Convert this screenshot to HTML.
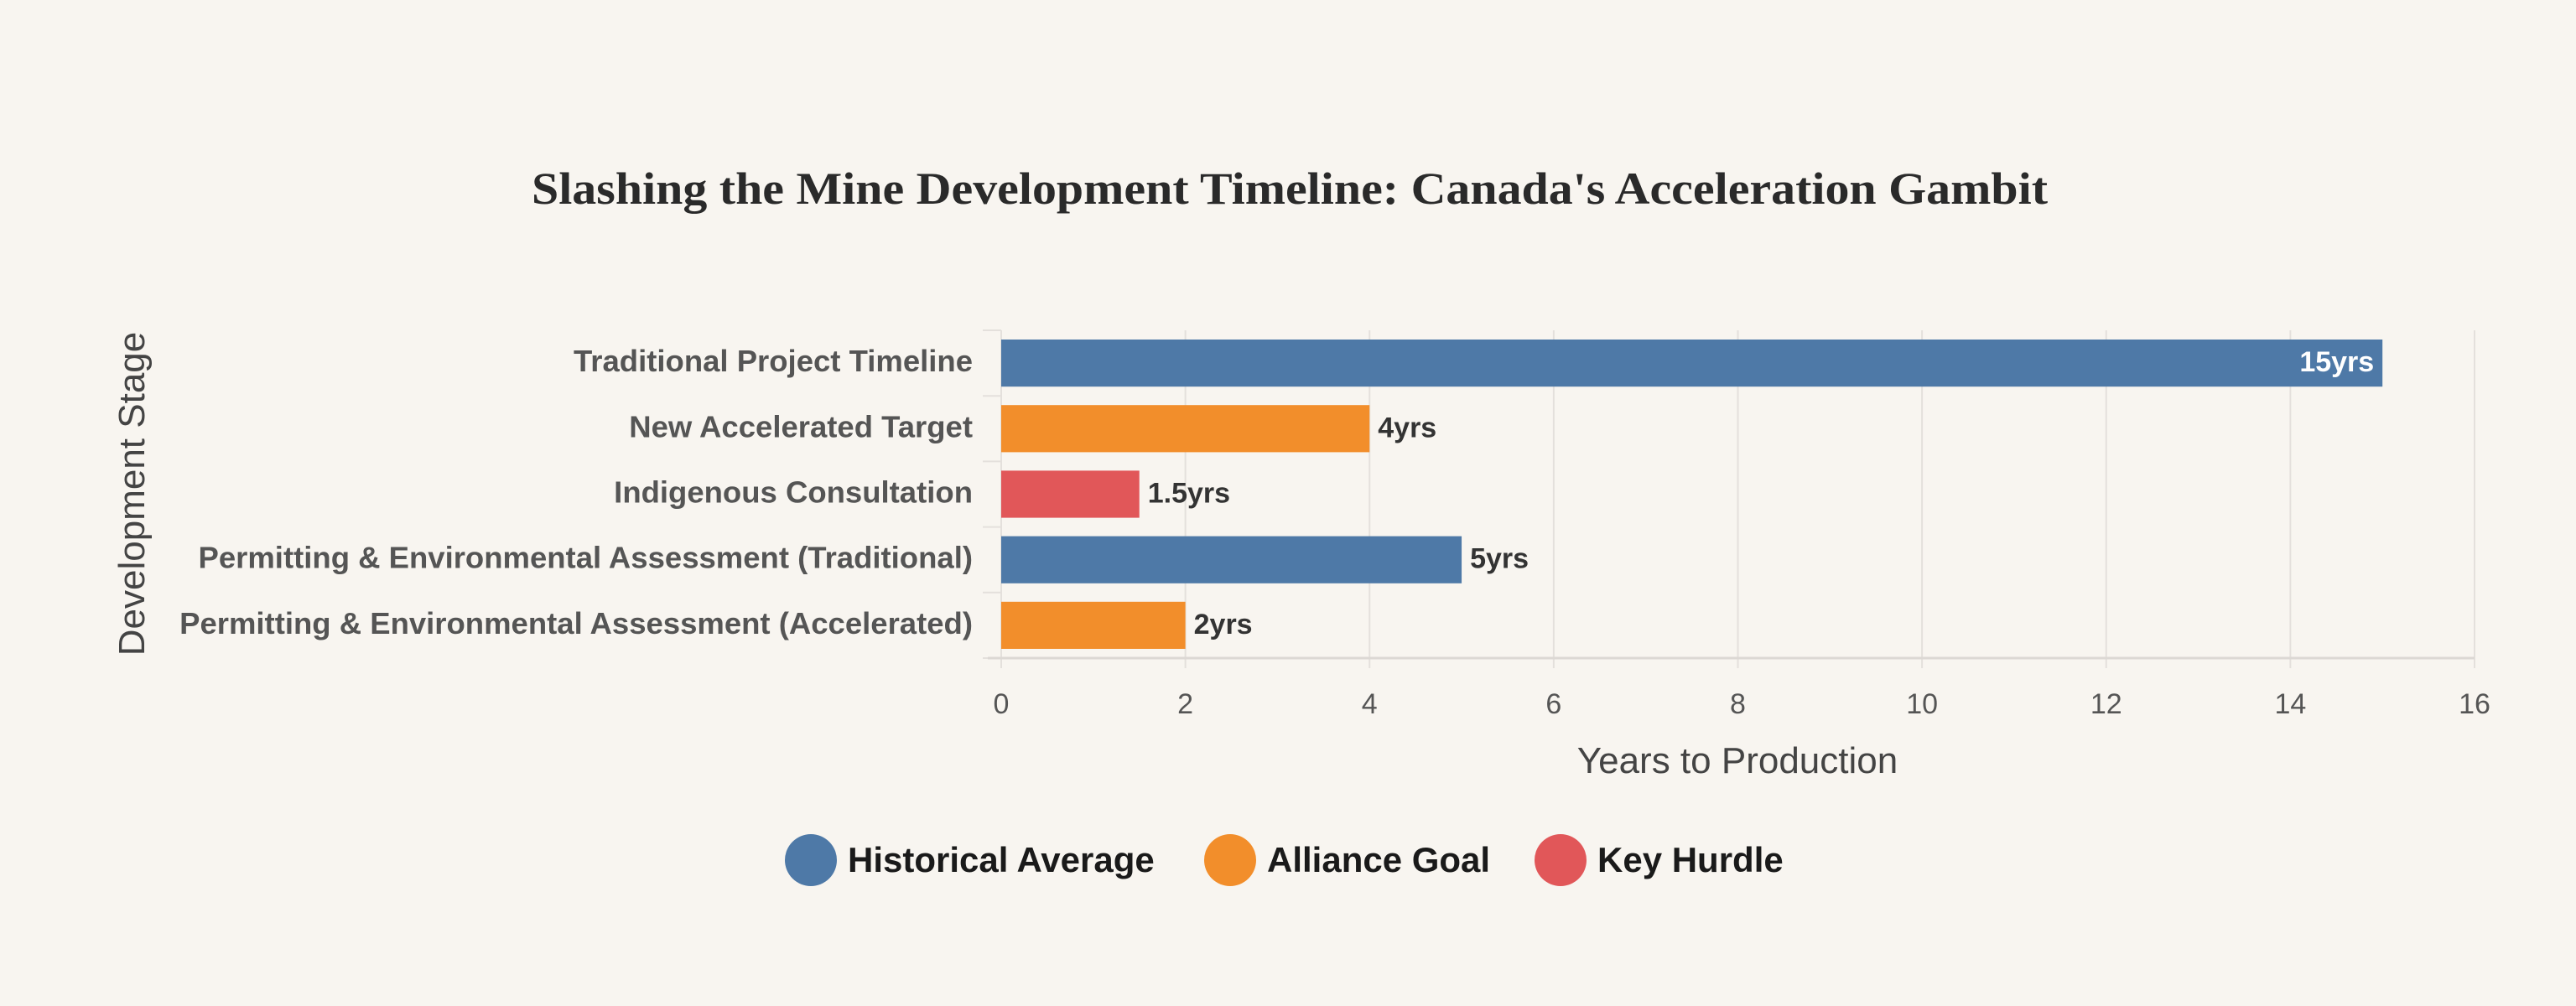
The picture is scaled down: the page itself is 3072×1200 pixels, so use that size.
<!DOCTYPE html>
<html><head><meta charset="utf-8">
<style>
html,body{margin:0;padding:0;background:#f8f5f0;}
svg{display:block;}
</style></head>
<body>
<svg id="chart" width="3072" height="1200" viewBox="0 0 3072 1200" xmlns="http://www.w3.org/2000/svg">
<rect x="0" y="0" width="3072" height="1200" fill="#f8f5f0"/>
<text x="1538" y="243" text-anchor="middle" font-family="'Liberation Serif',serif" font-weight="bold" font-size="54" fill="#2a2a2a" textLength="1808" lengthAdjust="spacingAndGlyphs">Slashing the Mine Development Timeline: Canada's Acceleration Gambit</text>
<g id="grid"></g>
<g id="bars"></g>
<g id="yaxis"></g>
<g id="xaxis"></g>
<text x="0" y="0" transform="translate(172,589) rotate(-90)" text-anchor="middle" font-family="'Liberation Sans',sans-serif" font-size="44" fill="#444">Development Stage</text>
<text x="2072" y="922" text-anchor="middle" font-family="'Liberation Sans',sans-serif" font-size="44" fill="#444">Years to Production</text>
<g id="legend"></g>
</svg>
<script>
const categories = ["Traditional Project Timeline","New Accelerated Target","Indigenous Consultation","Permitting & Environmental Assessment (Traditional)","Permitting & Environmental Assessment (Accelerated)"];
const values = [15, 4, 1.5, 5, 2];
const valueLabels = ["15yrs","4yrs","1.5yrs","5yrs","2yrs"];
const barGroups = ["Historical Average","Alliance Goal","Key Hurdle","Historical Average","Alliance Goal"];
const xTicks = [0,2,4,6,8,10,12,14,16];
const legendLabels = ["Historical Average","Alliance Goal","Key Hurdle"];

const colors = {"Historical Average":"#4e79a7","Alliance Goal":"#f28e2b","Key Hurdle":"#e15759"};
const NS = "http://www.w3.org/2000/svg";
const X0 = 1194, X1 = 2951, Y0 = 394, Y1 = 785;
const xMax = 16;
const x = v => X0 + (v / xMax) * (X1 - X0);
const band = (Y1 - Y0) / categories.length;
const y = i => Y0 + i * band;
const barPad = 11;
function mk(tag, attrs, parent){const e=document.createElementNS(NS,tag);for(const k in attrs)e.setAttribute(k,attrs[k]);parent.appendChild(e);return e;}

const grid = document.getElementById('grid');
xTicks.forEach(t=>{
  const l = mk('line',{x1:x(t),x2:x(t),y1:Y0,y2:Y1+12,stroke:'#e4e0dc','stroke-width':2},grid);
  
  
});
const xaxis = document.getElementById('xaxis');
const axl = mk('line',{x1:X0-16,x2:X1,y1:Y1,y2:Y1,stroke:'#dcd8d4','stroke-width':3},xaxis);


xTicks.forEach(t=>{
  const tx = mk('text',{x:x(t),y:851,'text-anchor':'middle','font-family':"'Liberation Sans',sans-serif",'font-size':34,fill:'#555'},xaxis);
  tx.textContent = t;
  
  
});

const yaxis = document.getElementById('yaxis');
for(let i=0;i<=categories.length;i++){
  const tk = mk('line',{x1:X0-22,x2:X0,y1:y(i),y2:y(i),stroke:'#e4e0dc','stroke-width':2},yaxis);
  
  
}
const bars = document.getElementById('bars');
categories.forEach((c,i)=>{
  const cy = y(i) + band/2;
  const lab = mk('text',{x:1160,y:cy+10,'text-anchor':'end','font-family':"'Liberation Sans',sans-serif",'font-weight':'bold','font-size':36.5,fill:'#555'},yaxis);
  lab.textContent = c;
  
  
  const r = mk('rect',{x:x(0),y:y(i)+barPad,width:x(values[i])-x(0),height:band-2*barPad,fill:colors[barGroups[i]]},bars);
  
  
  const inside = values[i] > xMax*0.8;
  const vt = mk('text',{x:inside? x(values[i])-10 : x(values[i])+10,y:cy+10,'text-anchor':inside?'end':'start','font-family':"'Liberation Sans',sans-serif",'font-weight':'bold','font-size':34,fill:inside?'#ffffff':'#333'},bars);
  vt.textContent = valueLabels[i];
  
  
});

const legend = document.getElementById('legend');
const legX = [967, 1467, 1861];
legendLabels.forEach((l,i)=>{
  const g = mk('g',{},legend);
  
  
  const c = mk('circle',{cx:legX[i],cy:1026,r:31,fill:colors[l]},g);
  
  
  const t = mk('text',{x:legX[i]+44,y:1040,'font-family':"'Liberation Sans',sans-serif",'font-weight':'bold','font-size':42,fill:'#1a1a1a'},g);
  t.textContent = l;
  
  
});
</script>
</body></html>
